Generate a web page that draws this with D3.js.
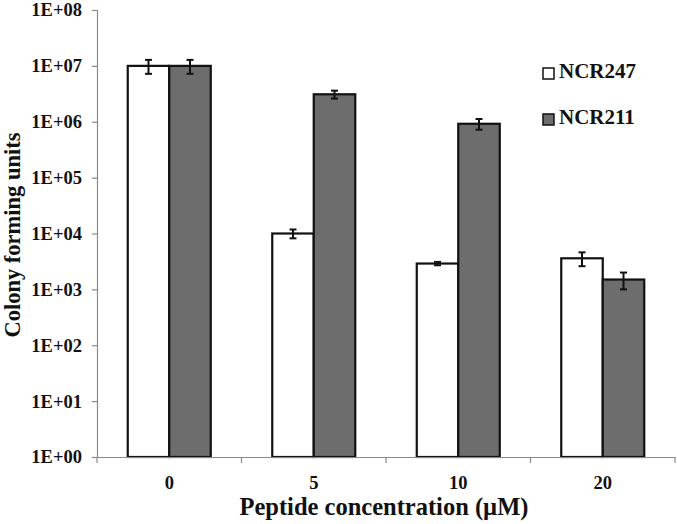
<!DOCTYPE html>
<html>
<head>
<meta charset="utf-8">
<script src="https://cdn.jsdelivr.net/npm/d3@7"></script>
<style>
  html, body { margin: 0; padding: 0; background: #fff; }
  text { font-family: "Liberation Serif", "Times New Roman", serif; font-weight: bold; fill: #111; }
</style>
</head>
<body>
<svg id="chart" width="677" height="524"></svg>
<script>
const categories = ["0", "5", "10", "20"];
const seriesNames = ["NCR247", "NCR211"];
const ncr247 = [1.0e7, 1.0e4, 2.9e3, 3.6e3];
const ncr247Err = [2.8e6, 1.8e3, 2.0e2, 1.0e3];
const ncr211 = [1.0e7, 3.1e6, 9.2e5, 1.5e3];
const ncr211Err = [2.8e6, 5.0e5, 2.0e5, 5.0e2];
const yTickValues = [1e0, 1e1, 1e2, 1e3, 1e4, 1e5, 1e6, 1e7, 1e8];
const yTickLabels = ["1E+00", "1E+01", "1E+02", "1E+03", "1E+04", "1E+05", "1E+06", "1E+07", "1E+08"];
const xTitle = "Peptide concentration (µM)";
const yTitle = "Colony forming units";
const colors = ["#ffffff", "#6d6d6d"];

(function () {
const svg = d3.select("#chart");
const mLeft = 97, mRight = 675, mTop = 10, mBottom = 457;
const FONT = "Liberation Serif";

const x = d3.scaleBand().domain(categories).range([mLeft, mRight]).padding(0);
const y = d3.scaleLog().domain([1, 1e8]).range([mBottom, mTop]);
const groupW = 83;
const x1 = d3.scaleBand().domain(seriesNames).range([0, groupW]).padding(0);

const data = categories.map((c, i) => ({
  cat: c,
  vals: [
    { s: seriesNames[0], v: ncr247[i], e: ncr247Err[i], c: colors[0] },
    { s: seriesNames[1], v: ncr211[i], e: ncr211Err[i], c: colors[1] }
  ]
}));

// y axis
const yAxis = d3.axisLeft(y).tickValues(yTickValues)
  .tickFormat((d, i) => yTickLabels[i]).tickSize(5).tickPadding(10);
const gy = svg.append("g").attr("transform", `translate(${mLeft},0)`).call(yAxis);
gy.select(".domain").attr("stroke", "#8a8a8a").attr("stroke-width", 1.2);
gy.selectAll(".tick line").attr("stroke", "#8a8a8a").attr("stroke-width", 1.2);
gy.selectAll(".tick text").attr("font-size", 18.5).attr("font-family", FONT).attr("font-weight", "bold").attr("fill", "#111");

const groups = svg.append("g").selectAll("g").data(data).join("g")
  .attr("transform", d => `translate(${x(d.cat) + (x.bandwidth() - groupW) / 2},0)`);

groups.selectAll("rect").data(d => d.vals).join("rect")
  .attr("x", d => x1(d.s))
  .attr("y", d => y(d.v))
  .attr("width", x1.bandwidth())
  .attr("height", d => mBottom - y(d.v))
  .attr("fill", d => d.c)
  .attr("stroke", "#111")
  .attr("stroke-width", 2.2);

const eb = groups.selectAll("g.err").data(d => d.vals).join("g").attr("class", "err");
eb.append("line")
  .attr("x1", d => x1(d.s) + x1.bandwidth() / 2)
  .attr("x2", d => x1(d.s) + x1.bandwidth() / 2)
  .attr("y1", d => y(d.v + d.e))
  .attr("y2", d => y(d.v - d.e))
  .attr("stroke", "#111").attr("stroke-width", 2);
[1, -1].forEach(sgn => {
  eb.append("line")
    .attr("x1", d => x1(d.s) + x1.bandwidth() / 2 - 3.5)
    .attr("x2", d => x1(d.s) + x1.bandwidth() / 2 + 3.5)
    .attr("y1", d => y(d.v + sgn * d.e))
    .attr("y2", d => y(d.v + sgn * d.e))
    .attr("stroke", "#111").attr("stroke-width", 2);
});

// x axis
const xAxis = d3.axisBottom(x).tickSize(0).tickPadding(19);
const gx = svg.append("g").attr("transform", `translate(0,${mBottom})`).call(xAxis);
gx.select(".domain").attr("stroke", "#8a8a8a").attr("stroke-width", 1.2);
gx.selectAll(".tick text").attr("font-size", 18.5).attr("font-family", FONT).attr("font-weight", "bold").attr("fill", "#111");
const bounds = categories.map(c => x(c)).concat([x(categories[categories.length - 1]) + x.bandwidth()]);
gx.selectAll("line.sep").data(bounds).join("line").attr("class", "sep")
  .attr("x1", d => d).attr("x2", d => d).attr("y1", 0).attr("y2", 6)
  .attr("stroke", "#8a8a8a").attr("stroke-width", 1.2);

// titles
svg.append("text").attr("x", 384).attr("y", 515)
  .attr("text-anchor", "middle").attr("font-size", 24.5).text(xTitle);
svg.append("text").attr("transform", "translate(20,235) rotate(-90)")
  .attr("text-anchor", "middle").attr("font-size", 22.5).text(yTitle);

// legend
const leg = svg.append("g");
seriesNames.forEach((s, i) => {
  const ly = 68 + i * 46;
  leg.append("rect").attr("x", 543).attr("y", ly).attr("width", 11).attr("height", 11)
    .attr("fill", colors[i]).attr("stroke", "#111").attr("stroke-width", 1.5);
  leg.append("text").attr("x", 559).attr("y", ly + 10).attr("font-size", 21).text(s);
});
})();
</script>
</body>
</html>
